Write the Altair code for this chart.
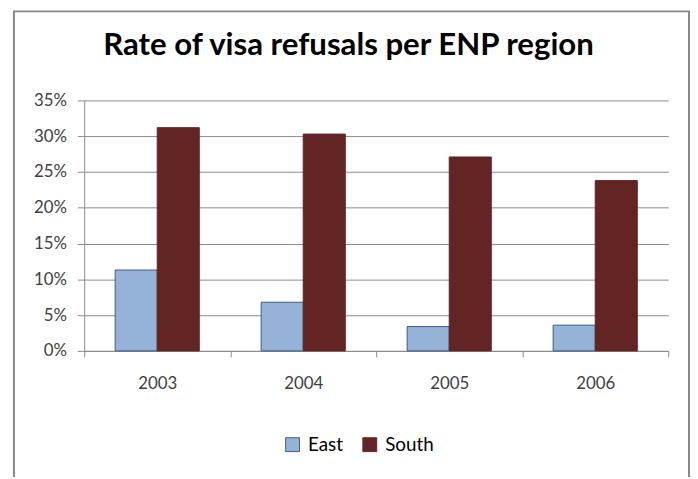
import altair as alt
import pandas as pd

years = ["2003", "2004", "2005", "2006"]
series = ["East", "South"]
east = [0.113, 0.068, 0.034, 0.036]
south = [0.312, 0.303, 0.271, 0.238]
y_ticks = [0, 0.05, 0.10, 0.15, 0.20, 0.25, 0.30, 0.35]
fill_colors = ["#95b3d7", "#632523"]
stroke_colors = ["#3d5a86", "#632523"]

rows = []
for i, yr in enumerate(years):
    rows.append({"year": yr, "region": "East", "rate": east[i]})
    rows.append({"year": yr, "region": "South", "rate": south[i]})
df = pd.DataFrame(rows)

FONT = "Lato"
W, H = 590, 253
GRID = "#8a8a8a"

legend = alt.Legend(
    title=None, orient="none", legendX=201, legendY=338, direction="horizontal",
    symbolType="square", symbolSize=196, symbolStrokeWidth=1,
    labelFont=FONT, labelFontSize=19, labelColor="#000000",
    labelOffset=6, columnPadding=17, padding=0,
)

bars = alt.Chart(df).mark_bar(strokeWidth=1).encode(
    x=alt.X(
        "year:N", sort=years,
        scale=alt.Scale(paddingInner=0, paddingOuter=0),
        axis=alt.Axis(
            title=None, labelAngle=0, tickBand="extent", grid=False,
            domainColor=GRID, tickColor=GRID, tickSize=6, labelPadding=19,
            labelFont=FONT, labelFontSize=17, labelColor="#404040",
        ),
    ),
    xOffset=alt.XOffset("region:N", sort=series,
                        scale=alt.Scale(paddingInner=0, paddingOuter=0.735)),
    y=alt.Y(
        "rate:Q",
        scale=alt.Scale(domain=[0, 0.35], nice=False),
        axis=alt.Axis(
            title=None, values=y_ticks, format=".0%", grid=True, gridColor=GRID,
            domainColor=GRID, tickColor=GRID, tickSize=7, labelPadding=11,
            labelFont=FONT, labelFontSize=17, labelColor="#404040",
        ),
    ),
    color=alt.Color("region:N", sort=series,
                    scale=alt.Scale(domain=series, range=fill_colors), legend=legend),
    stroke=alt.Stroke("region:N", sort=series,
                      scale=alt.Scale(domain=series, range=stroke_colors), legend=legend),
)

frame = alt.Chart(alt.Data(values=[{}])).mark_rect(
    fillOpacity=0, stroke="#888888", strokeWidth=2
).encode(
    x=alt.value(-71), x2=alt.value(611), y=alt.value(-90), y2=alt.value(420)
)

chart = alt.layer(frame, bars).properties(
    width=W, height=H,
    autosize="none",
    padding={"left": 77, "top": 91, "right": 22, "bottom": 125},
    background="white",
    title=alt.Title(
        "Rate of visa refusals per ENP region", font=FONT, fontSize=31.5,
        fontWeight="bold", color="#000000", anchor="middle", dx=-28, offset=-52,
    ),
).configure_view(strokeWidth=0)

chart.save("out.html", embed_options={"renderer": "svg", "actions": False})
